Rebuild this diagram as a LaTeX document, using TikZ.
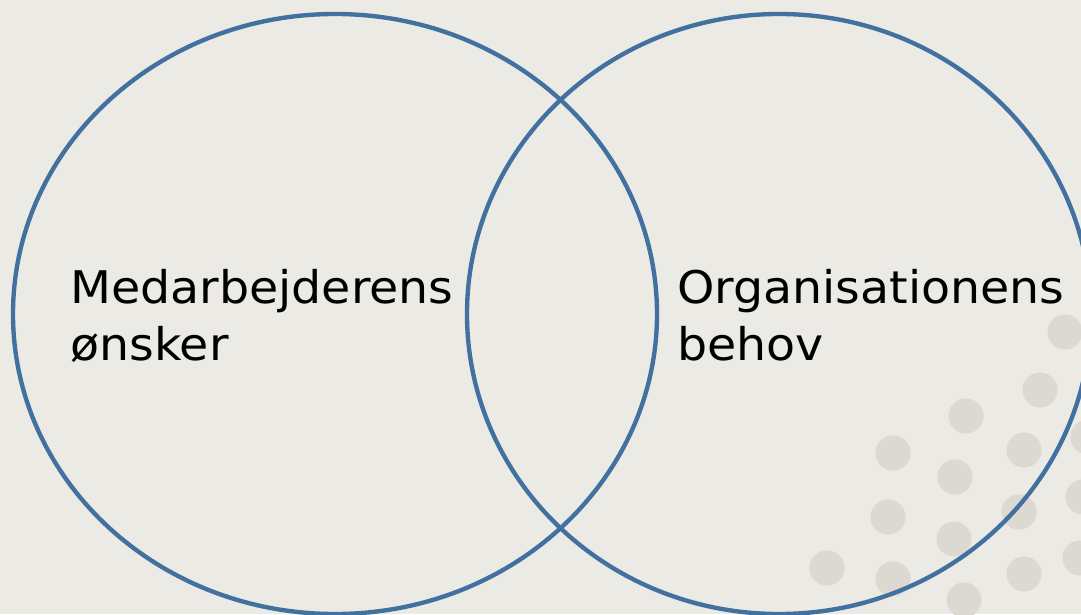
\documentclass[tikz,border=0pt]{standalone}
\usepackage{fontspec}
\setmainfont[FakeStretch=1.055]{DejaVu Sans}
\definecolor{ringblue}{RGB}{66,113,160}
\definecolor{paper}{RGB}{235,234,229}
\definecolor{dotgrey}{RGB}{220,216,210}

\begin{document}
\begin{tikzpicture}[
  ring/.style={ringblue, line width=3.1pt},
  venntext/.style={anchor=base west, align=left, inner sep=0pt, font=\fontsize{32}{40.5}\selectfont}
]
  \useasboundingbox (0,0) rectangle (27.025,15.35);
  \fill[paper] (0,0) rectangle (27.025,15.35);
% dotted pattern, lower right
\foreach \x/\y in {26.625/7.05, 26.0/5.6, 24.15/4.95, 22.325/4.025, 25.6/4.1,
  23.875/3.425, 27.2/4.425, 22.2/2.425, 25.475/2.55, 27.075/2.925, 23.85/1.875,
  20.675/1.15, 22.325/0.875, 25.6/1.0, 24.1/0.35, 27.0/1.4}
  \fill[dotgrey] (\x,\y) circle (0.4375);
\draw[ring] (8.375,7.5) ellipse (8.05 and 7.5);
\draw[ring] (19.475,7.5) ellipse (7.8 and 7.5);
% base anchor sits on the last line
\node[venntext] (wish) at (1.75,6.35) {Medarbejderens\\ønsker};
\node[venntext] (need) at (16.925,6.35) {Organisationens\\behov};

\end{tikzpicture}
\end{document}
